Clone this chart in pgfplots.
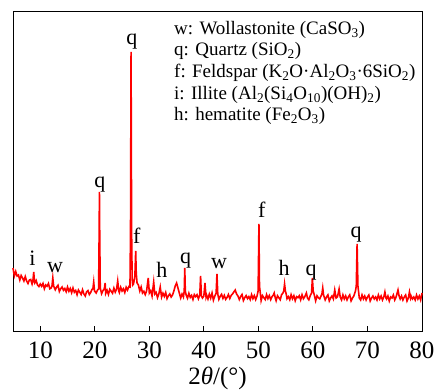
\documentclass[border=0pt]{standalone}
\usepackage{fontspec}
\setmainfont{Liberation Serif}
\usepackage{pgfplots}
\pgfplotsset{compat=1.18}
\begin{document}
\begin{tikzpicture}
\begin{axis}[
  at={(0,0)}, anchor=south west,
  scale only axis, width=409pt, height=320pt,
  xmin=5, xmax=80, ymin=0, ymax=320,
  ytick=\empty,
  xtick={10,20,...,80},
  xtick pos=bottom, tick align=inside,
  major tick length=5pt,
  axis line style={line width=0.9pt},
  every tick/.style={line width=0.9pt, black},
  /pgf/number format/assume math mode=true,
  ticklabel style={font=\fontsize{25}{25}\selectfont, inner sep=0pt},
  xticklabel shift=11pt,
  clip=false,
]
\addplot[red, line width=1.6pt] coordinates {
(5.00,63) (5.25,55) (5.50,59.5) (5.75,55) (6.00,56) (6.25,51) (6.50,55.5) (6.75,53)
(7.00,50) (7.25,54.5) (7.50,50) (7.75,47.5) (8.00,51) (8.25,51.5) (8.50,47)
(8.65,50) (8.80,59) (8.95,49)
(9.00,48) (9.25,50.5) (9.50,46) (9.75,44.5) (10.00,47) (10.25,44.75) (10.50,47.5) (10.75,42.25)
(11.00,46) (11.25,44.75) (11.50,47.5) (11.75,42.25) (12.00,43)
(12.15,45) (12.30,53) (12.45,45)
(12.75,41.25) (13.00,44) (13.25,45.75) (13.50,39.5) (13.75,42.25) (14.00,44) (14.25,40.75)
(14.50,42.5) (14.75,39.25) (15.00,44) (15.25,39.75) (15.50,42.5) (15.75,38.25) (16.00,43)
(16.25,38.75) (16.50,40.5) (16.75,36.25) (17.00,41) (17.25,38.75) (17.50,36.5) (17.75,41.25)
(18.00,37) (18.25,35) (18.50,39.25) (18.75,40.4) (19.00,36.5) (19.25,38.6) (19.50,41.75)
(19.65,42) (19.80,49) (19.95,40)
(20.25,38) (20.50,41)
(20.70,42) (20.80,100) (20.85,139) (20.90,100) (21.00,43)
(21.25,37.3) (21.50,40.4) (21.75,42.4) (21.90,48) (22.00,37.5) (22.25,40.6) (22.50,36.6)
(22.75,41.7) (23.00,39.75) (23.25,37.8) (23.50,42.9) (23.75,38.9) (24.00,42) (24.20,50)
(24.40,40) (24.50,38.5) (24.75,43.75) (25.00,40) (25.25,42.25) (25.50,38.5) (25.75,43.75)
(26.00,41) (26.25,44.5) (26.45,44)
(26.55,100) (26.65,279) (26.75,100)
(26.85,52) (26.95,46) (27.10,47)
(27.35,55) (27.50,80) (27.60,58) (27.75,48)
(28.00,46) (28.25,40) (28.50,44) (28.75,38) (29.00,39.75) (29.25,36.4) (29.50,40.1)
(29.80,53) (30.00,38) (30.25,40.3) (30.50,35) (30.80,49) (31.00,37) (31.25,38.6)
(31.50,33.4) (31.75,37.2) (32.00,44) (32.25,33.9) (32.50,37.75) (32.75,34.6) (33.00,38.5)
(33.25,32.4) (33.50,35.25) (33.75,37.1) (34.00,34) (34.25,36) (34.50,40) (34.75,45)
(35.00,48) (35.25,43) (35.50,38) (35.75,33) (36.00,37) (36.25,34)
(36.40,40) (36.50,63) (36.60,40)
(36.75,36) (37.00,32.75) (37.25,37.7) (37.50,33.6) (37.75,35.6) (38.00,31.5) (38.25,36.4)
(38.50,34.4) (38.75,36.3) (39.00,32.25)
(39.25,36) (39.40,55) (39.55,35)
(39.75,33) (40.00,35) (40.20,48) (40.40,34) (40.50,36) (40.75,32) (41.00,36.9)
(41.25,32.9) (41.50,38) (41.75,30.8) (42.00,34.8)
(42.25,38) (42.40,57) (42.55,37)
(42.75,31.7) (43.00,34.7) (43.25,36.7) (43.50,32.65) (43.75,35.6) (44.00,31.6) (44.25,33.6)
(44.50,36.5) (44.75,32.5) (45.00,35.5) (45.25,37) (45.50,39) (45.75,41) (46.00,37)
(46.25,35) (46.50,31.5) (46.75,34.5) (47.00,36.5) (47.25,30.5) (47.50,33.4) (47.75,35.4)
(48.00,32.4) (48.25,34.4) (48.50,31.4) (48.75,36.4) (49.00,32.4) (49.25,35.4) (49.50,31.4)
(49.75,35) (49.95,40) (50.10,107) (50.20,45) (50.35,38)
(50.50,30.4) (50.75,35.4) (51.00,33.4) (51.25,31.4) (51.50,36.4) (51.75,32.4) (52.00,35.4)
(52.25,31.3) (52.50,34.3) (52.75,36) (52.90,38) (53.10,33) (53.25,30.3) (53.50,35.3)
(53.75,33.3) (54.00,31.3) (54.25,36.3) (54.50,38)
(54.65,40) (54.80,47) (54.95,40)
(55.10,37) (55.25,32.3) (55.50,34.3) (55.75,31.3) (56.00,36.3) (56.25,32.3) (56.50,35.3)
(56.75,30.3) (57.00,34.3) (57.25,33.3) (57.50,35.3) (57.75,31.2) (58.00,36.2) (58.25,32.2)
(58.50,34.2) (58.80,38) (59.00,33) (59.25,31.2) (59.50,35.2)
(59.75,38) (59.90,53) (60.05,40)
(60.25,36) (60.50,30.2) (60.75,35.2) (61.00,33.2) (61.25,32.2) (61.50,35.2)
(61.65,37) (61.80,43) (61.95,36)
(62.25,31.1) (62.50,34.1) (62.75,36.1) (63.00,30.1) (63.25,33.1) (63.50,35.1) (63.75,32.1)
(64.00,41) (64.25,33) (64.50,34.1) (64.80,42) (65.00,34) (65.25,31.1) (65.50,36.1)
(65.75,32.1) (66.00,35.1) (66.25,31.1) (66.50,34.1) (66.75,36.1) (67.00,30.1) (67.25,33)
(67.50,35) (67.80,40)
(67.95,45) (68.10,87) (68.25,45) (68.40,38)
(68.50,33) (68.75,31) (69.00,36) (69.25,32) (69.50,35) (69.75,31) (70.00,34) (70.25,36)
(70.50,30) (70.75,33) (71.00,35) (71.25,32) (71.50,34) (71.75,31) (72.00,36) (72.25,32)
(72.50,35) (72.75,31) (73.00,34) (73.20,39) (73.40,33) (73.50,32) (73.75,35) (74.00,30)
(74.25,34) (74.50,33) (74.75,36) (75.00,31) (75.25,34) (75.60,41) (75.80,35) (76.00,32)
(76.25,35) (76.50,31) (76.75,34) (77.00,36) (77.25,30) (77.50,33) (77.70,39) (77.90,33)
(78.00,35) (78.25,32) (78.50,34) (78.75,31) (79.00,36) (79.25,32) (79.50,35) (79.75,31)
(80.00,38)
};
\node[anchor=base, inner sep=0pt, font=\fontsize{22}{22}\selectfont] at (axis cs:8.55,66) {i};
\node[anchor=base, inner sep=0pt, font=\fontsize{22}{22}\selectfont] at (axis cs:12.7,59) {w};
\node[anchor=base, inner sep=0pt, font=\fontsize{22}{22}\selectfont] at (axis cs:20.95,144) {q};
\node[anchor=base, inner sep=0pt, font=\fontsize{22}{22}\selectfont] at (axis cs:26.82,286) {q};
\node[anchor=base, inner sep=0pt, font=\fontsize{22}{22}\selectfont] at (axis cs:27.7,88) {f};
\node[anchor=base, inner sep=0pt, font=\fontsize{22}{22}\selectfont] at (axis cs:32.3,54) {h};
\node[anchor=base, inner sep=0pt, font=\fontsize{22}{22}\selectfont] at (axis cs:36.67,68) {q};
\node[anchor=base, inner sep=0pt, font=\fontsize{22}{22}\selectfont] at (axis cs:42.8,63) {w};
\node[anchor=base, inner sep=0pt, font=\fontsize{22}{22}\selectfont] at (axis cs:50.6,114) {f};
\node[anchor=base, inner sep=0pt, font=\fontsize{22}{22}\selectfont] at (axis cs:54.7,56) {h};
\node[anchor=base, inner sep=0pt, font=\fontsize{22}{22}\selectfont] at (axis cs:59.65,56) {q};
\node[anchor=base, inner sep=0pt, font=\fontsize{22}{22}\selectfont] at (axis cs:67.9,94) {q};
\node[anchor=base west, inner sep=0pt, font=\fontsize{19}{21}\selectfont] at (axis cs:34.52,296) {w: Wollastonite (CaSO\textsubscript{3})};
\node[anchor=base west, inner sep=0pt, font=\fontsize{19}{21}\selectfont] at (axis cs:34.52,275) {q: Quartz (SiO\textsubscript{2})};
\node[anchor=base west, inner sep=0pt, font=\fontsize{19}{21}\selectfont] at (axis cs:34.52,253.7) {f: Feldspar (K\textsubscript{2}O·Al\textsubscript{2}O\textsubscript{3}·6SiO\textsubscript{2})};
\node[anchor=base west, inner sep=0pt, font=\fontsize{19}{21}\selectfont] at (axis cs:34.52,231.7) {i: Illite (Al\textsubscript{2}(Si\textsubscript{4}O\textsubscript{10})(OH)\textsubscript{2})};
\node[anchor=base west, inner sep=0pt, font=\fontsize{19}{21}\selectfont] at (axis cs:34.52,210.3) {h: hematite (Fe\textsubscript{2}O\textsubscript{3})};
\node[anchor=base, inner sep=0pt, font=\fontsize{25}{25}\selectfont, yshift=-53pt] at (axis description cs:0.5,0) {2\textit{θ}/(°)};
\end{axis}
\pgfresetboundingbox
\path[use as bounding box] (-13pt,-58pt) rectangle (424pt,331pt);
\end{tikzpicture}
\end{document}
